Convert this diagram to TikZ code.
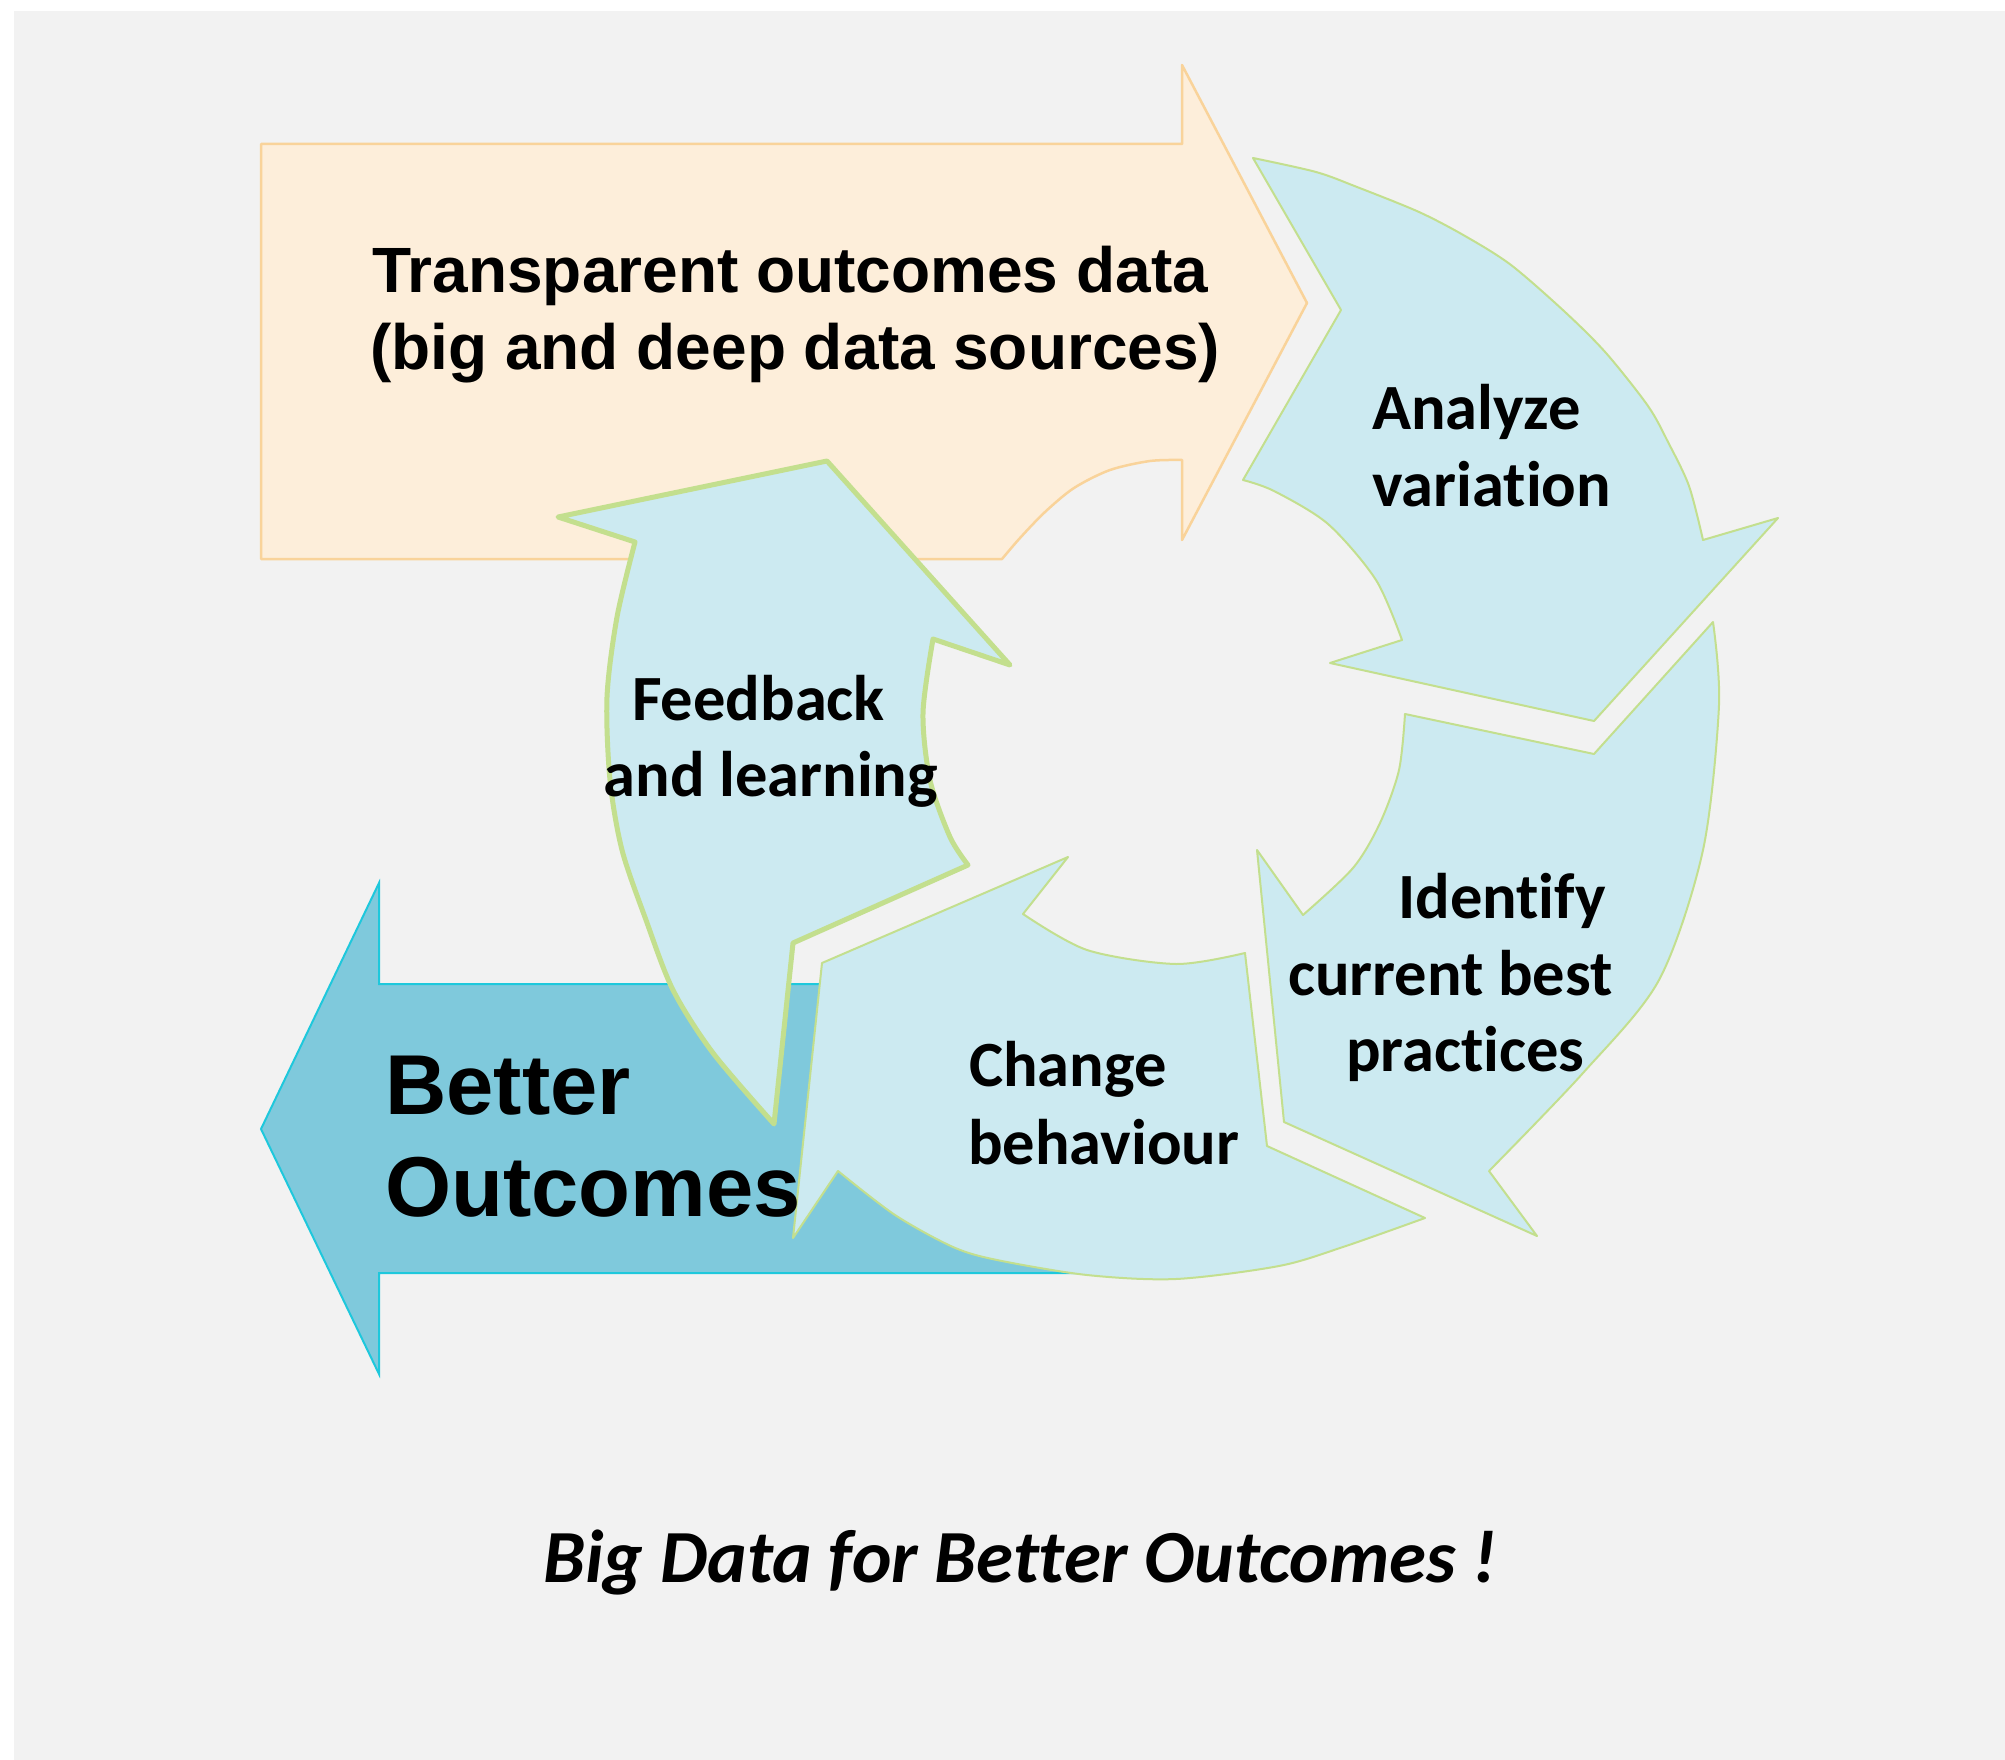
\documentclass[tikz,border=0pt]{standalone}
\usepackage{fontspec}
\setmainfont{Liberation Sans}
\newfontfamily\calibri[Ligatures=NoCommon]{Carlito}

\definecolor{bggrey}{HTML}{F2F2F2}
\definecolor{peachfill}{HTML}{FDEEDA}
\definecolor{peachline}{HTML}{F9D39A}
\definecolor{cycfill}{HTML}{CCEAF1}
\definecolor{cycline}{HTML}{C3DF8E}
\definecolor{outfill}{HTML}{7FC9DC}
\definecolor{outline}{HTML}{1EC8DC}

\begin{document}
\begin{tikzpicture}[x=1pt,y=-1pt,
  peacharrow/.style={fill=peachfill, draw=peachline, line width=2.5pt, line join=round},
  outcomearrow/.style={fill=outfill, draw=outline, line width=2pt, line join=miter},
  cyclearrow/.style={fill=cycfill, draw=cycline, line width=2pt, line join=round},
  feedbackarrow/.style={cyclearrow, line width=5pt},
  headtext/.style={anchor=base west, inner sep=0pt, font=\bfseries\fontsize{64}{77}\selectfont},
  bigtext/.style={anchor=base west, inner sep=0pt, font=\bfseries\fontsize{85}{103}\selectfont},
  steptext/.style={anchor=base west, inner sep=0pt, font=\calibri\bfseries\fontsize{64.5}{77}\selectfont},
  slogan/.style={anchor=base west, inner sep=0pt, font=\calibri\bfseries\itshape\fontsize{75}{90}\selectfont}]

% page and grey panel
\fill[white] (0,0) rectangle (2005,1760);
\useasboundingbox (0,0) rectangle (2005,1760);
\fill[bggrey] (14,11) rectangle (2005,1760);

% incoming data arrow
\draw[peacharrow] (261,144) -- (1182,144) -- (1182,65) -- (1307,303) -- (1182,540) -- (1182,460)
  -- plot[smooth] coordinates {(1182,460) (1150,461) (1110,470) (1074,488) (1045,512) (1020,538) (1002,559)}
  -- (261,559) -- cycle;

% outgoing result arrow
\draw[outcomearrow] (261,1129) -- (379,883) -- (379,984) -- (1150,984) -- (1150,1273)
  -- (379,1273) -- (379,1374) -- cycle;

% cycle: analyze
\draw[cyclearrow] (1253,158)
  -- plot[smooth] coordinates {(1253,158) (1316,172) (1357,187) (1419,212) (1465,236) (1511,265)
       (1565,312) (1606,353) (1648,406) (1668,442) (1689,486) (1703,540)}
  -- (1778,518) -- (1594,721) -- (1330,663) -- (1402,640)
  -- plot[smooth] coordinates {(1402,640) (1376,580) (1328,524) (1274,491) (1243,480)}
  -- (1341,310) -- cycle;

% cycle: identify
\draw[cyclearrow] (1713,622)
  -- plot[smooth] coordinates {(1713,622) (1719,705) (1703,850) (1659,980) (1583,1073) (1489,1171)}
  -- (1537,1236) -- (1284,1122) -- (1257,850) -- (1303,915)
  -- plot[smooth] coordinates {(1303,915) (1353,868) (1380,823) (1399,770) (1405,714)}
  -- (1594,754) -- cycle;

% cycle: change
\draw[cyclearrow] (1245,953) -- (1267,1146) -- (1425,1218)
  -- plot[smooth] coordinates {(1425,1218) (1343,1247) (1279,1266) (1176,1279) (1087,1275) (997,1260) (953,1247) (895,1215) (838,1171)}
  -- (793,1238) -- (822,963) -- (1068,857) -- (1023,914)
  -- plot[smooth] coordinates {(1023,914) (1087,950) (1176,964) (1245,953)}
  -- cycle;

% cycle: feedback
\draw[feedbackarrow] (774,1124) -- (793,943) -- (968,865)
  -- plot[smooth] coordinates {(968,865) (950,837) (930,780) (923,713) (933,639)}
  -- (1010,665) -- (827,461) -- (558,517) -- (635,542)
  -- plot[smooth] coordinates {(635,542) (617,617) (607,697) (610,780) (622,850) (646,920) (673,990) (713,1053) (774,1124)}
  -- cycle;

% labels
\node[headtext] (data1) at (372,292.7) {Transparent outcomes data};
\node[headtext] (data2) at (370,370) {(big and deep data sources)};

\node[bigtext] (out1) at (385,1114) {Better};
\node[bigtext] (out2) at (385,1216.5) {Outcomes};

\node[steptext] (an1) at (1372,429) {Analyze};
\node[steptext] (an2) at (1372,506.5) {variation};

\node[steptext] (id1) at (1398,918) {Identify};
\node[steptext] (id2) at (1288,995) {current best};
\node[steptext] (id3) at (1346,1071) {practices};

\node[steptext] (ch1) at (969,1086.7) {Change};
\node[steptext] (ch2) at (968,1164) {behaviour};

\node[steptext] (fb1) at (632,720) {Feedback};
\node[steptext] (fb2) at (603.5,796.7) {and learning};

\node[slogan] (motto) at (543,1582.7) {Big Data for Better Outcomes !};
\end{tikzpicture}
\end{document}
